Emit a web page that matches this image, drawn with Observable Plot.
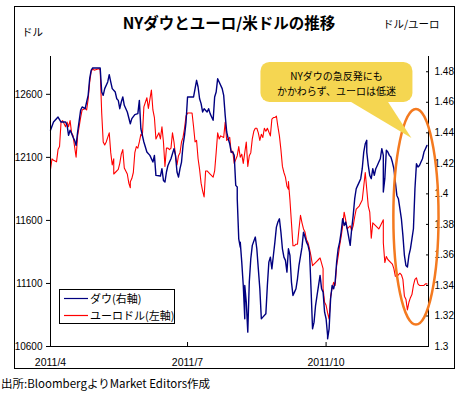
<!DOCTYPE html>
<html><head><meta charset="utf-8">
<script src="https://cdn.jsdelivr.net/npm/d3@7"></script>
<script src="https://cdn.jsdelivr.net/npm/@observablehq/plot@0.6"></script>
<style>
html,body{margin:0;padding:0;background:#fff;}
#chart svg{display:block;}
#caption{font-family:"Noto Sans CJK JP",sans-serif;font-size:11.5px;height:22px;line-height:22px;padding-left:1px;color:#000;white-space:nowrap;}
</style></head><body>
<div id="chart"></div>
<div id="caption">出所:BloombergよりMarket Editors作成</div>
<script>
// ---- data (2011, month-day) ----
const dowDates = ["04-01","04-03","04-06","04-08","04-11","04-12","04-13","04-14","04-15","04-16","04-17","04-18","04-19","04-21","04-22","04-24","04-25","04-26","04-27","04-28","04-29","05-02","05-04","05-05","05-06","05-07","05-09","05-10","05-11","05-12","05-14","05-15","05-16","05-17","05-18","05-19","05-20","05-22","05-24","05-25","05-27","05-29","05-30","05-31","06-02","06-04","06-06","06-08","06-09","06-10","06-13","06-14","06-15","06-16","06-17","06-18","06-19","06-20","06-22","06-23","06-24","06-25","06-26","06-27","06-28","06-29","06-30","07-01","07-03","07-05","07-06","07-07","07-08","07-09","07-10","07-11","07-12","07-14","07-15","07-16","07-17","07-18","07-19","07-20","07-21","07-22","07-24","07-25","07-26","07-27","07-28","07-29","07-30","07-31","08-01","08-02","08-03","08-03","08-04","08-05","08-05","08-06","08-07","08-08","08-08","08-09","08-10","08-11","08-12","08-13","08-15","08-16","08-17","08-18","08-19","08-20","08-22","08-23","08-24","08-25","08-26","08-27","08-28","08-29","08-30","08-31","09-01","09-02","09-03","09-04","09-05","09-06","09-07","09-08","09-09","09-10","09-11","09-12","09-13","09-15","09-16","09-17","09-18","09-19","09-20","09-21","09-22","09-23","09-24","09-25","09-26","09-27","09-28","09-29","09-30","10-01","10-02","10-02","10-03","10-04","10-05","10-06","10-07","10-08","10-09","10-10","10-11","10-12","10-13","10-14","10-15","10-17","10-18","10-19","10-20","10-21","10-22","10-23","10-24","10-25","10-26","10-27","10-28","10-28","10-29","10-30","10-31","11-01","11-02","11-03","11-04","11-05","11-06","11-07","11-08","11-08","11-09","11-10","11-11","11-12","11-13","11-14","11-15","11-17","11-18","11-19","11-20","11-21","11-22","11-23","11-24","11-25","11-26","11-27","11-28","11-29","11-30","12-01","12-02","12-03","12-04","12-05","12-06","12-07"];
const dowValues = [12315,12380,12420,12380,12380,12355,12275,12315,12290,12260,12235,12195,12300,12473,12500,12486,12539,12592,12724,12790,12809,12809,12809,12618,12592,12645,12698,12756,12698,12645,12618,12565,12552,12486,12539,12579,12513,12460,12367,12407,12439,12447,12552,12327,12222,12142,12116,12063,12116,11957,11952,12010,11917,11904,11984,12036,12063,12089,12169,12116,11984,11944,12010,12063,12195,12275,12380,12579,12579,12579,12645,12711,12658,12565,12526,12460,12486,12460,12486,12447,12420,12394,12579,12618,12724,12698,12645,12592,12433,12301,12248,12208,12142,12142,12116,11878,11865,11772,11454,11388,11428,11269,11084,10820,11084,10952,10714,11111,11296,11402,11468,11375,11216,11058,10820,10833,10859,11084,11269,11309,11216,11322,11428,11547,11587,11613,11507,11375,11309,11283,11190,11375,11322,11111,11005,11031,11058,11137,11243,11388,11507,11468,11428,11402,11349,11058,10740,10793,10925,11005,11084,11164,11058,11031,10872,10820,10687,10661,10740,10978,11084,11058,11111,11269,11375,11428,11507,11613,11560,11587,11534,11402,11534,11640,11772,11851,11878,11904,11931,12010,12142,12208,12235,12142,12036,11957,11931,12010,11957,12010,12036,12063,12089,12169,12116,11825,11931,12156,12142,12116,12103,12063,12010,11798,11772,11693,11613,11481,11322,11243,11230,11322,11375,11454,11534,11851,12050,12023,12036,12063,12089,12142,12169,12195];

const eurDates = ["04-01","04-02","04-03","04-05","04-06","04-07","04-08","04-09","04-11","04-12","04-13","04-14","04-15","04-16","04-17","04-18","04-19","04-21","04-22","04-24","04-25","04-26","04-27","04-28","04-29","04-30","05-03","05-04","05-05","05-06","05-07","05-08","05-09","05-10","05-11","05-12","05-13","05-13","05-14","05-16","05-17","05-18","05-19","05-20","05-22","05-23","05-24","05-24","05-25","05-26","05-27","05-28","05-29","05-30","05-31","06-01","06-02","06-04","06-05","06-07","06-08","06-09","06-10","06-12","06-13","06-14","06-15","06-16","06-17","06-18","06-19","06-20","06-21","06-22","06-23","06-24","06-25","06-26","06-27","06-28","06-29","06-30","07-01","07-04","07-05","07-06","07-07","07-08","07-09","07-10","07-11","07-12","07-13","07-14","07-16","07-18","07-19","07-20","07-21","07-22","07-23","07-25","07-26","07-27","07-28","07-29","07-30","07-31","08-01","08-03","08-04","08-05","08-06","08-07","08-08","08-09","08-10","08-11","08-12","08-13","08-14","08-15","08-16","08-17","08-18","08-19","08-20","08-21","08-22","08-23","08-25","08-26","08-27","08-28","08-29","08-30","08-31","09-01","09-02","09-03","09-04","09-05","09-06","09-06","09-07","09-08","09-09","09-10","09-11","09-12","09-13","09-14","09-15","09-16","09-17","09-18","09-19","09-20","09-21","09-22","09-23","09-24","09-25","09-26","09-27","09-29","09-29","09-30","10-01","10-02","10-03","10-04","10-05","10-06","10-07","10-08","10-09","10-10","10-11","10-12","10-13","10-14","10-15","10-17","10-18","10-19","10-20","10-21","10-22","10-23","10-24","10-25","10-27","10-28","10-29","10-30","10-31","11-01","11-02","11-03","11-04","11-05","11-06","11-08","11-08","11-09","11-10","11-11","11-13","11-14","11-15","11-16","11-17","11-18","11-19","11-20","11-21","11-22","11-23","11-24","11-25","11-26","11-27","11-28","11-29","11-30","12-01","12-02","12-03","12-04","12-05","12-06","12-07"];
const eurValues = [1.416,1.423,1.422,1.421,1.429,1.431,1.447,1.448,1.444,1.447,1.444,1.448,1.440,1.438,1.431,1.424,1.438,1.450,1.455,1.456,1.455,1.462,1.473,1.480,1.482,1.481,1.482,1.481,1.453,1.434,1.432,1.434,1.437,1.440,1.427,1.419,1.423,1.413,1.414,1.416,1.420,1.426,1.429,1.417,1.413,1.407,1.404,1.408,1.410,1.414,1.427,1.431,1.430,1.434,1.439,1.438,1.457,1.463,1.456,1.468,1.455,1.450,1.436,1.440,1.436,1.444,1.434,1.418,1.430,1.430,1.429,1.430,1.440,1.434,1.425,1.419,1.425,1.427,1.434,1.437,1.443,1.451,1.453,1.453,1.444,1.434,1.435,1.423,1.416,1.407,1.402,1.398,1.415,1.415,1.413,1.411,1.415,1.427,1.440,1.436,1.438,1.437,1.447,1.435,1.436,1.437,1.427,1.428,1.420,1.425,1.431,1.424,1.426,1.420,1.427,1.434,1.418,1.425,1.427,1.436,1.441,1.443,1.443,1.440,1.435,1.439,1.437,1.443,1.441,1.443,1.438,1.449,1.450,1.450,1.451,1.444,1.438,1.429,1.418,1.414,1.411,1.405,1.403,1.408,1.396,1.381,1.366,1.366,1.367,1.367,1.377,1.386,1.381,1.377,1.375,1.370,1.368,1.364,1.359,1.353,1.354,1.355,1.356,1.357,1.358,1.351,1.338,1.329,1.327,1.322,1.318,1.333,1.338,1.342,1.340,1.353,1.359,1.366,1.372,1.379,1.388,1.383,1.377,1.379,1.376,1.379,1.385,1.390,1.391,1.392,1.394,1.396,1.414,1.403,1.392,1.388,1.371,1.381,1.380,1.379,1.378,1.377,1.379,1.383,1.368,1.355,1.359,1.357,1.355,1.354,1.351,1.346,1.346,1.347,1.348,1.347,1.344,1.333,1.331,1.324,1.329,1.332,1.334,1.340,1.344,1.345,1.341,1.340,1.340,1.340,1.340,1.341,1.341];

const dowDomain = [10600, 12900];
const dowTicks = [10600, 11100, 11600, 12100, 12600];
const eurDomain = [1.30, 1.49];
const eurTicks = [1.30, 1.32, 1.34, 1.36, 1.38, 1.40, 1.42, 1.44, 1.46, 1.48];
const xDomain = ["04-01", "12-08"];
const xTicks = ["04-01", "07-01", "10-01"];

const titleText = "NYダウとユーロ/米ドルの推移";
const leftUnit = "ドル";
const rightUnit = "ドル/ユーロ";
const legendLabels = ["ダウ(右軸)", "ユーロドル(左軸)"];
const seriesColors = ["#000080", "#ff0000"];
const calloutLines = ["NYダウの急反発にも", "かかわらず、ユーロは低迷"];
const calloutTip = {date: "11-27", value: 12250};
const highlightDates = ["11-15", "12-15"];
const highlightValues = [10770, 12480];

// ---- build ----
const parseDate = s => new Date("2011-" + s + "T00:00:00Z");
const toLeft = e => dowDomain[0] + (e - eurDomain[0]) * (dowDomain[1] - dowDomain[0]) / (eurDomain[1] - eurDomain[0]);
const toRight = v => eurDomain[0] + (v - dowDomain[0]) * (eurDomain[1] - eurDomain[0]) / (dowDomain[1] - dowDomain[0]);

const dow = dowDates.map((s, i) => ({date: parseDate(s), value: dowValues[i]}));
const eur = eurDates.map((s, i) => ({date: parseDate(s), value: toLeft(eurValues[i])}));
const xt = xTicks.map(parseDate);
const et = eurTicks.map(toLeft);

const W = 462, H = 372;
const plot = Plot.plot({
  width: W, height: H,
  marginLeft: 50, marginRight: 34, marginTop: 56, marginBottom: 26,
  style: {fontFamily: "'Liberation Sans', Arial, sans-serif", fontSize: "10px", background: "#fff", color: "#000"},
  x: {type: "utc", domain: xDomain.map(parseDate)},
  y: {domain: dowDomain},
  marks: [
    Plot.line(eur, {x: "date", y: "value", stroke: seriesColors[1], strokeWidth: 1.1}),
    Plot.line(dow, {x: "date", y: "value", stroke: seriesColors[0], strokeWidth: 1.4}),
    Plot.ruleX([parseDate(xDomain[0]), parseDate(xDomain[1])], {stroke: "#000"}),
    Plot.ruleY([dowDomain[0]], {stroke: "#000"}),
    Plot.axisY({anchor: "left", ticks: dowTicks, tickSize: 4, tickPadding: 4, tickFormat: d => String(d), label: null}),
    Plot.axisY({anchor: "right", ticks: et, tickSize: 0, tickPadding: 6, tickFormat: d => String(+toRight(d).toFixed(2)), label: null}),
    Plot.axisY({anchor: "right", ticks: et, tickSize: 3, dx: -3, tickFormat: () => "", label: null}),
    Plot.axisX({anchor: "bottom", ticks: xt, tickSize: 0, tickPadding: 12, fontSize: 10.5, tickFormat: d => "2011/" + (d.getUTCMonth() + 1), label: null}),
    Plot.axisX({anchor: "bottom", ticks: xt, tickSize: 4, dy: -4, tickFormat: () => "", label: null})
  ]
});
document.getElementById("chart").appendChild(plot);

const svg = d3.select(plot);
const xs = plot.scale("x"), ys = plot.scale("y");
const jp = "'Noto Sans CJK JP', sans-serif";

// outer frame
svg.append("rect").attr("x", 14.5).attr("y", 6.5).attr("width", 440).attr("height", 362)
  .attr("fill", "none").attr("stroke", "#000").attr("stroke-width", 1);

// title & units
svg.append("text").attr("x", 229).attr("y", 29).attr("text-anchor", "middle")
  .attr("font-family", jp).attr("font-size", 15.5).attr("font-weight", "bold").text(titleText);
svg.append("text").attr("x", 22).attr("y", 36).attr("text-anchor", "start").attr("font-family", jp).attr("font-size", 10.5).text(leftUnit);
svg.append("text").attr("x", 383).attr("y", 28).attr("text-anchor", "start").attr("font-family", jp).attr("font-size", 10.5).text(rightUnit);

// legend
const lg = svg.append("g");
lg.append("rect").attr("x", 59.5).attr("y", 289.5).attr("width", 115).attr("height", 34)
  .attr("fill", "#fff").attr("stroke", "#000");
legendLabels.forEach((t, i) => {
  const y = 298.5 + i * 17;
  lg.append("line").attr("x1", 64).attr("x2", 88).attr("y1", y).attr("y2", y)
    .attr("stroke", seriesColors[i]).attr("stroke-width", 1.2);
  lg.append("text").attr("x", 90).attr("y", y + 4).attr("text-anchor", "start")
    .attr("font-family", jp).attr("font-size", 11).text(t);
});

// highlight ellipse
const ex0 = xs.apply(parseDate(highlightDates[0])), ex1 = xs.apply(parseDate(highlightDates[1]));
const ey0 = ys.apply(highlightValues[1]), ey1 = ys.apply(highlightValues[0]);
svg.append("ellipse").attr("cx", (ex0 + ex1) / 2).attr("cy", (ey0 + ey1) / 2)
  .attr("rx", (ex1 - ex0) / 2).attr("ry", (ey1 - ey0) / 2)
  .attr("fill", "none").attr("stroke", "#f47a20").attr("stroke-width", 2.5);

// callout
const tx = xs.apply(parseDate(calloutTip.date)), ty = ys.apply(calloutTip.value);
const cg = svg.append("g");
const yellow = "#f5d651";
cg.append("path").attr("d", `M${tx - 62},${ty - 37}L${tx},${ty}L${tx - 24},${ty - 37}Z`).attr("fill", yellow);
cg.append("rect").attr("x", tx - 151).attr("y", ty - 76).attr("width", 152).attr("height", 40)
  .attr("rx", 9).attr("fill", yellow);
calloutLines.forEach((t, i) => {
  cg.append("text").attr("x", tx - 75).attr("y", ty - 58 + i * 14.7).attr("text-anchor", "middle")
    .attr("font-family", jp).attr("font-size", 10).text(t);
});
</script></body></html>
